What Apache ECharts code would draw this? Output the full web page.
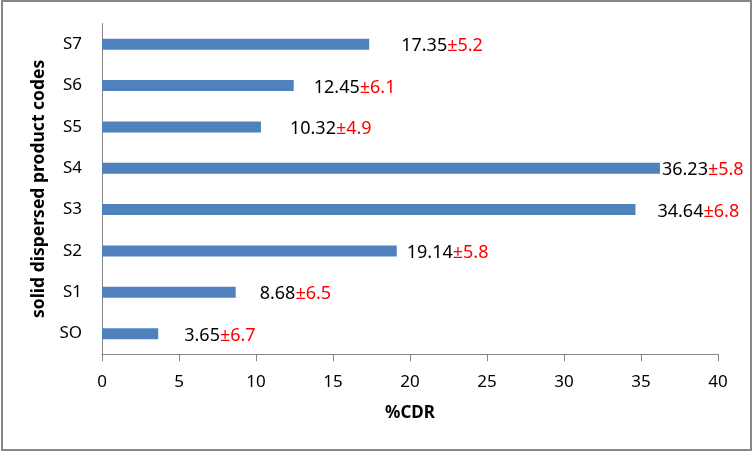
<!DOCTYPE html>
<html>
<head>
<meta charset="utf-8">
<script src="https://cdn.jsdelivr.net/npm/echarts@6/dist/echarts.min.js"></script>
<style>html,body{margin:0;padding:0;background:#fff}#c{width:753px;height:451px}</style>
</head>
<body>
<div id="c"></div>
<script>
// Data (bottom to top)
var categories = ['SO', 'S1', 'S2', 'S3', 'S4', 'S5', 'S6', 'S7'];
var meanCDR = [3.65, 8.68, 19.14, 34.64, 36.23, 10.32, 12.45, 17.35];
var sdCDR = [6.7, 6.5, 5.8, 6.8, 5.8, 4.9, 6.1, 5.2];
var xTicks = [0, 5, 10, 15, 20, 25, 30, 35, 40];

// Layout: manual label gaps (px) as placed in the original
var labelGap = [26, 24, 10, 22, 2, 29, 20, 32];

var chart = echarts.init(document.getElementById('c'), null, {renderer: 'canvas'});
var FONT = '"Noto Sans", sans-serif';
var seriesData = meanCDR.map(function (v, i) {
  return {
    value: v,
    label: {distance: labelGap[i]}
  };
});
chart.setOption({
  animation: false,
  backgroundColor: '#fff',
  graphic: [{
    type: 'rect',
    shape: {x: 2, y: 1, width: 749, height: 449},
    style: {fill: 'none', stroke: '#868686', lineWidth: 2},
    silent: true
  }],
  grid: {left: 102, right: 35, top: 23.5, bottom: 96.7, containLabel: false},
  xAxis: {
    type: 'value',
    min: xTicks[0],
    max: xTicks[xTicks.length - 1],
    interval: 5,
    name: '%CDR',
    nameLocation: 'middle',
    nameGap: 50,
    nameTextStyle: {fontFamily: FONT, fontWeight: 'bold', fontSize: 17, color: '#000'},
    axisLine: {show: true, lineStyle: {color: '#868686', width: 1}},
    axisTick: {show: true, length: 7, lineStyle: {color: '#868686'}},
    axisLabel: {fontFamily: FONT, fontSize: 17, color: '#000', margin: 19},
    splitLine: {show: false}
  },
  yAxis: {
    type: 'category',
    data: categories,
    name: 'solid dispersed product codes',
    nameLocation: 'middle',
    nameGap: 51,
    nameTextStyle: {fontFamily: FONT, fontWeight: 'bold', fontSize: 17.5, color: '#000'},
    axisLine: {show: true, lineStyle: {color: '#868686', width: 1}},
    axisTick: {show: false},
    axisLabel: {fontFamily: FONT, fontSize: 17, color: '#000', margin: 20}
  },
  series: [{
    type: 'bar',
    data: seriesData,
    barWidth: 11,
    itemStyle: {color: '#4F81BD'},
    label: {
      show: true,
      position: 'right',
      offset: [0, 2],
      formatter: function (p) {
        return '{v|' + meanCDR[p.dataIndex].toFixed(2) + '}{e|\u00b1' + sdCDR[p.dataIndex].toFixed(1) + '}';
      },
      rich: {
        v: {fontFamily: FONT, fontSize: 18, color: '#000'},
        e: {fontFamily: FONT, fontSize: 18, color: '#FF0000'}
      }
    }
  }]
});
</script>
</body>
</html>
